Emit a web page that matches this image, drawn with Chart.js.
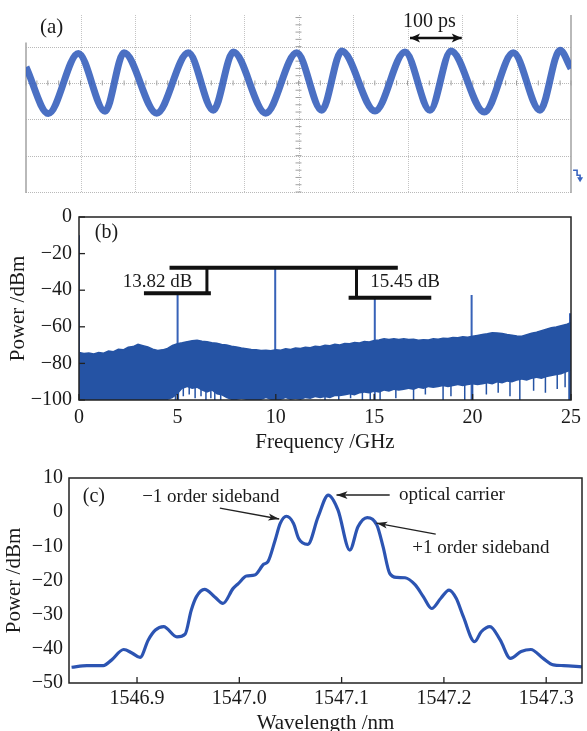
<!DOCTYPE html>
<html><head><meta charset="utf-8">
<script src="https://cdn.jsdelivr.net/npm/chart.js@4.4.1/dist/chart.umd.min.js"></script>
<style>
html,body{margin:0;padding:0;background:#fff;width:587px;height:731px;overflow:hidden;position:relative}
canvas{position:absolute;left:0}
#ca{top:0}
#cb{top:195px}
#cc{top:455px}
</style></head><body>
<canvas id="ca" width="587" height="195"></canvas>
<canvas id="cb" width="587" height="260"></canvas>
<canvas id="cc" width="587" height="281"></canvas>
<script>
// ---------- Panel (a): oscilloscope trace (screen divisions) ----------
const scopeTimeDiv = [0, 0.409, 0.960, 1.450, 1.798, 2.398, 2.978, 3.437, 3.804, 4.398, 4.967, 5.426, 5.793, 6.404, 6.954, 7.413, 7.798, 8.409, 8.941, 9.431, 9.798, 10];
const scopeVoltDiv = [0.44, -0.84, 0.81, -0.78, 0.83, -0.83, 0.83, -0.75, 0.85, -0.83, 0.83, -0.75, 0.88, -0.77, 0.85, -0.75, 0.88, -0.80, 0.83, -0.75, 0.90, 0.40];
const scopeGridX = [0,1,2,3,4,5,6,7,8,9,10];
const scopeGridY = [-3,-2,-1,0,1];

// ---------- Panel (b): RF spectrum ----------
const freqTicks = [0, 5, 10, 15, 20, 25];
const powerTicksB = [-100, -80, -60, -40, -20, 0];
const noiseStartGHz = 0, noiseStepGHz = 0.25;
const noiseUpper = [
 -74,-74.6,-74.3,-74.8,-74,-74.4,-73.2,-73.6,-72.3,-72.6,-71.2,-70.8,
 -69.6,-70.3,-71,-72.2,-73,-72.6,-71.8,-70.2,-69.2,-68.7,-68.1,-67.6,
 -67.4,-67.9,-68.1,-68.7,-69,-69.6,-70,-70.6,-71,-71.6,-72,-72.4,
 -72.5,-73,-72.8,-73.1,-72.5,-72.8,-72,-72.4,-71.6,-71.9,-71.2,-71.4,
 -70.6,-70.9,-70.1,-70.4,-69.6,-69.9,-69.1,-69.3,-68.6,-68.8,-68,-68.3,
 -67.5,-67.2,-66.6,-67,-66.5,-66.9,-66.6,-67,-66.8,-67.3,-67.1,-67.2,
 -66.6,-66.8,-66.2,-66.4,-65.8,-66,-65.5,-65.7,-65.2,-64.7,-64.2,-63.8,
 -63.2,-63.4,-63.6,-64.2,-64.6,-65,-65.1,-64.3,-63.5,-62.9,-62.1,-61.3,
 -60.5,-60.1,-59.4,-58.8,-57.6];
const noiseLower = [
 -100,-100,-100,-100,-100,-100,-100,-100,-100,-100,-100,-100,-100,-100,-100,-100,-100,-100,-100,
 -99,-97,-94,-93,-94,-93.5,-95,-96,-95,-97,-97.5,-99,
 -100,-100,-99.5,-100,-100,-100,-100,-99,-100,-100,
 -100,-99,-100,-99.5,-100,-99,-99.5,-98.5,-99,-98.5,-99,-98,
 -98,-97.5,-97,-97.5,-96.5,-96,-96.5,-95.5,-96,-95,-95.5,-94.5,
 -95,-94.5,-94,-94.5,-93.5,-94,-93,-93.5,-93,-92.5,-93,-92.5,-92,-92.5,-92,-91.5,
 -92,-91.5,-91,-91.5,-90.5,-91,-90,-90.5,-89.5,-89,-89.5,-88.5,-88,-88.5,-87.5,-87,-86.5,-86,-85,-84];
// blue noise streaks that reach below the solid part of the band
const streakFreqs = [4.9, 5.05, 5.3, 5.6, 5.9, 6.2, 6.45, 6.7, 6.9, 7.2, 12.5, 13.2, 13.8, 14.4, 14.8,
  15.3, 16.1, 17.0, 17.6, 18.5, 18.9, 19.6, 20.0, 20.7, 21.3, 21.9, 22.4, 23.1, 23.7, 24.3, 24.7, 24.9];
const streakBottoms = [-100, -100, -98, -97, -99, -98, -100, -99, -100, -100, -100, -100, -99, -100, -100,
  -100, -99, -100, -97, -100, -98, -100, -100, -97, -96, -98, -100, -95, -96, -94, -93, -100];
const streakTop = -82;
const spikeFreqs = [0, 5.01, 9.97, 15.03, 19.95, 24.95];
const spikeLevels = [-10, -42.3, -27.9, -44.3, -42.6, -52.6];

// ---------- Panel (c): optical spectrum ----------
const wavelengthTicks = [1546.9, 1547.0, 1547.1, 1547.2, 1547.3];
const powerTicksC = [-50, -40, -30, -20, -10, 0, 10];
const wavelengthNm = [1546.836,1546.851,1546.867,1546.875,1546.887,1546.895,1546.903,1546.911,1546.918,1546.926,
 1546.939,1546.947,1546.953,1546.958,1546.966,1546.976,1546.984,1546.994,1546.999,1547.007,1547.015,
 1547.024,1547.028,1547.035,1547.040,1547.046,1547.053,1547.058,1547.067,1547.077,1547.087,1547.0965,
 1547.108,1547.116,1547.125,1547.1345,1547.1405,1547.147,1547.154,1547.162,1547.172,1547.180,1547.188,
 1547.197,1547.205,1547.212,1547.219,1547.230,1547.2365,1547.245,1547.255,1547.265,1547.2755,1547.285,
 1547.297,1547.307,1547.317,1547.335];
const powerDbm = [-45.4,-44.9,-44.9,-43.3,-40.2,-41.2,-42.5,-37.4,-34.5,-33.5,
 -36.5,-35.7,-28.7,-24.8,-22.6,-24.8,-26.7,-22.3,-20.9,-18.7,-18.4,
 -15.2,-14.5,-8.2,-3.3,-1.2,-3.3,-7.7,-9.4,-1.4,5.0,0.6,
 -11.1,-4.3,-1.6,-3.8,-10.1,-17.9,-19.1,-19.2,-21.3,-24.8,-28.2,
 -25.2,-22.8,-25.2,-30.6,-37.9,-35.0,-33.5,-37.4,-42.8,-40.8,-40.2,
 -42.8,-44.7,-44.9,-45.3];

// ---------- styling ----------
const SERIF = '"Liberation Serif","Times New Roman",serif';
Chart.defaults.font.family = SERIF;
Chart.defaults.color = '#1a1a1a';
const minusFmt = v => String(v).replace('-', '\u2212');

const annotPlugin = {
  id: 'annot',
  afterDraw(chart, args, opts) {
    const ctx = chart.ctx, xs = chart.scales.x, ys = chart.scales.y;
    const X = v => xs.getPixelForValue(v), Y = v => ys.getPixelForValue(v);
    ctx.save();
    (opts.lines || []).forEach(l => {
      const x1 = X(l.x1), y1 = Y(l.y1), x2 = X(l.x2), y2 = Y(l.y2);
      ctx.strokeStyle = l.color; ctx.lineWidth = l.width; ctx.lineCap = 'butt';
      ctx.beginPath(); ctx.moveTo(x1, y1); ctx.lineTo(x2, y2); ctx.stroke();
      const heads = [];
      if (l.head === 'end' || l.head === 'both') heads.push([x1, y1, x2, y2]);
      if (l.head === 'both') heads.push([x2, y2, x1, y1]);
      heads.forEach(([ax, ay, bx, by]) => {
        const a = Math.atan2(by - ay, bx - ax), L = l.hl || 10, W = l.hw || 3.5;
        ctx.fillStyle = l.color; ctx.beginPath();
        ctx.moveTo(bx, by);
        ctx.lineTo(bx - L * Math.cos(a) + W * Math.sin(a), by - L * Math.sin(a) - W * Math.cos(a));
        ctx.lineTo(bx - L * 0.75 * Math.cos(a), by - L * 0.75 * Math.sin(a));
        ctx.lineTo(bx - L * Math.cos(a) - W * Math.sin(a), by - L * Math.sin(a) + W * Math.cos(a));
        ctx.closePath(); ctx.fill();
      });
    });
    (opts.texts || []).forEach(t => {
      ctx.font = (t.size || 19) + 'px ' + (t.family || SERIF);
      ctx.fillStyle = t.color || '#1a1a1a';
      ctx.textAlign = t.align || 'left'; ctx.textBaseline = 'middle';
      ctx.fillText(t.text, X(t.x), Y(t.y));
    });
    ctx.restore();
  }
};

const framePlugin = {
  id: 'frame',
  afterDraw(chart, args, opts) {
    if (!opts || !opts.show) return;
    const ctx = chart.ctx, a = chart.chartArea;
    ctx.save();
    ctx.strokeStyle = '#222'; ctx.lineWidth = 1.5;
    ctx.strokeRect(a.left, a.top, a.right - a.left, a.bottom - a.top);
    ctx.lineWidth = 1.3;
    (opts.innerTicksX || []).forEach(v => {
      const px = chart.scales.x.getPixelForValue(v);
      ctx.beginPath(); ctx.moveTo(px, a.bottom); ctx.lineTo(px, a.bottom - 6); ctx.stroke();
    });
    (opts.innerTicksY || []).forEach(v => {
      const py = chart.scales.y.getPixelForValue(v);
      ctx.beginPath(); ctx.moveTo(a.left, py); ctx.lineTo(a.left + 6, py); ctx.stroke();
    });
    ctx.restore();
  }
};

const scopeGridPlugin = {
  id: 'scopegrid',
  beforeDatasetsDraw(chart) {
    const ctx = chart.ctx, a = chart.chartArea, xs = chart.scales.x, ys = chart.scales.y;
    ctx.save();
    ctx.strokeStyle = '#b9b9b9'; ctx.lineWidth = 1; ctx.setLineDash([1, 1]);
    scopeGridY.forEach(v => {
      const py = Math.round(ys.getPixelForValue(v)) + 0.5;
      ctx.beginPath(); ctx.moveTo(a.left, py); ctx.lineTo(a.right, py); ctx.stroke();
    });
    ctx.strokeStyle = '#c4c4c4';
    scopeGridX.forEach(v => {
      if (v === 0 || v === 10) return;
      const px = Math.round(xs.getPixelForValue(v)) + 0.5;
      ctx.beginPath(); ctx.moveTo(px, a.top); ctx.lineTo(px, a.bottom); ctx.stroke();
    });
    ctx.setLineDash([]);
    ctx.strokeStyle = '#a8a8a8'; ctx.lineWidth = 1.6;
    let px = xs.getPixelForValue(0);
    ctx.beginPath(); ctx.moveTo(px, ys.getPixelForValue(1) - 4); ctx.lineTo(px, a.bottom + 1); ctx.stroke();
    px = xs.getPixelForValue(10);
    ctx.beginPath(); ctx.moveTo(px, a.top); ctx.lineTo(px, a.bottom + 1); ctx.stroke();
    // centre-line minor ticks
    ctx.strokeStyle = '#a0a0a0'; ctx.lineWidth = 1;
    const cy = ys.getPixelForValue(0), cx = xs.getPixelForValue(5);
    for (let k = 0; k <= 50; k++) {
      const x = xs.getPixelForValue(k / 5);
      ctx.beginPath(); ctx.moveTo(x, cy - 2.5); ctx.lineTo(x, cy + 2.5); ctx.stroke();
    }
    for (let k = -15; k <= 9; k++) {
      const y = ys.getPixelForValue(k / 5);
      if (y < a.top + 2) continue;
      ctx.beginPath(); ctx.moveTo(cx - 3, y); ctx.lineTo(cx + 3, y); ctx.stroke();
    }
    ctx.restore();
  },
  afterDraw(chart) {
    const ctx = chart.ctx, xs = chart.scales.x, ys = chart.scales.y;
    const x = xs.getPixelForValue(10.13), y = ys.getPixelForValue(-2.54);
    ctx.save();
    ctx.strokeStyle = '#3a64c0'; ctx.fillStyle = '#3a64c0'; ctx.lineWidth = 1.6;
    ctx.beginPath(); ctx.moveTo(x - 5, y - 5); ctx.lineTo(x - 1, y - 5); ctx.lineTo(x - 1, y); ctx.lineTo(x + 2, y); ctx.lineTo(x + 2, y + 3); ctx.stroke();
    ctx.beginPath(); ctx.moveTo(x - 1, y + 2); ctx.lineTo(x + 5, y + 2); ctx.lineTo(x + 2, y + 7); ctx.closePath(); ctx.fill();
    ctx.restore();
  }
};

// ---------- Chart (a) ----------
new Chart(document.getElementById('ca'), {
  type: 'line',
  data: { datasets: [{
    data: scopeTimeDiv.map((t, i) => ({ x: t, y: scopeVoltDiv[i] })),
    borderColor: 'rgba(55,96,188,0.9)', borderWidth: 7, pointRadius: 0,
    cubicInterpolationMode: 'monotone', fill: false
  }]},
  options: {
    responsive: false, animation: false, events: [],
    layout: { padding: { left: 26, right: 16, top: 15, bottom: 3 } },
    plugins: { legend: { display: false }, tooltip: { enabled: false },
      annot: {
        lines: [{ x1: 7.046, y1: 1.24, x2: 7.995, y2: 1.24, color: '#111', width: 2.5, head: 'both', hl: 10, hw: 4.5 }],
        texts: [
          { text: '(a)', x: 0.257, y: 1.54, size: 21 },
          { text: '100 ps', x: 6.917, y: 1.68, size: 20 }
        ]
      }
    },
    scales: {
      x: { type: 'linear', min: 0, max: 10, display: false },
      y: { min: -3, max: 1.87, display: false }
    }
  },
  plugins: [scopeGridPlugin, annotPlugin]
});

// ---------- Chart (b) ----------
const noiseFreq = noiseUpper.map((_, i) => noiseStartGHz + i * noiseStepGHz);
const streakPts = [];
streakFreqs.forEach((f, i) => { streakPts.push({ x: f, y: streakTop }, { x: f, y: streakBottoms[i] }, { x: f, y: null }); });
const spikePts = [];
spikeFreqs.forEach((f, i) => { spikePts.push({ x: f, y: -100 }, { x: f, y: spikeLevels[i] }, { x: f, y: null }); });
new Chart(document.getElementById('cb'), {
  type: 'line',
  data: { datasets: [
    { data: noiseFreq.map((f, i) => ({ x: f, y: noiseLower[i] })), borderWidth: 0, borderColor: 'rgba(0,0,0,0)', pointRadius: 0, fill: false, tension: 0 },
    { data: noiseFreq.map((f, i) => ({ x: f, y: noiseUpper[i] })), borderColor: '#2553a4', borderWidth: 1.5, backgroundColor: '#2553a4', pointRadius: 0, fill: '-1', tension: 0 },
    { data: streakPts, borderColor: '#2553a4', borderWidth: 1.5, pointRadius: 0, spanGaps: false, fill: false },
    { data: spikePts, borderColor: '#3762b8', borderWidth: 2, pointRadius: 0, spanGaps: false, fill: false }
  ]},
  options: {
    responsive: false, animation: false, events: [],
    layout: { padding: { left: 0, right: 13, top: 22, bottom: 0 } },
    plugins: { legend: { display: false }, tooltip: { enabled: false },
      frame: { show: true, innerTicksX: freqTicks, innerTicksY: powerTicksB },
      annot: {
        lines: [
          { x1: 4.6, y1: -27.8, x2: 16.2, y2: -27.8, color: '#111', width: 4 },
          { x1: 3.3, y1: -41.6, x2: 6.7, y2: -41.6, color: '#111', width: 4 },
          { x1: 6.5, y1: -27.8, x2: 6.5, y2: -41.6, color: '#111', width: 3 },
          { x1: 13.7, y1: -44.1, x2: 17.9, y2: -44.1, color: '#111', width: 4 },
          { x1: 14.1, y1: -27.8, x2: 14.1, y2: -44.1, color: '#111', width: 3 }
        ],
        texts: [
          { text: '(b)', x: 0.8, y: -8.7, size: 20 },
          { text: '13.82 dB', x: 5.76, y: -35.5, align: 'right', size: 19 },
          { text: '15.45 dB', x: 14.8, y: -35.5, align: 'left', size: 19 }
        ]
      }
    },
    scales: {
      x: { type: 'linear', min: 0, max: 25,
        afterBuildTicks: s => { s.ticks = freqTicks.map(v => ({ value: v })); },
        afterFit: s => { s.height = 55; },
        grid: { display: false, drawTicks: false }, border: { display: false },
        ticks: { padding: 6, font: { size: 20 }, color: '#1a1a1a' },
        title: { display: true, text: 'Frequency /GHz', font: { size: 21 }, color: '#1a1a1a', padding: { top: 0, bottom: 0 } } },
      y: { min: -100, max: 0,
        afterBuildTicks: s => { s.ticks = powerTicksB.map(v => ({ value: v })); },
        afterFit: s => { s.width = 79; },
        grid: { display: false, drawTicks: false }, border: { display: false },
        ticks: { padding: 7, font: { size: 20 }, color: '#1a1a1a', callback: minusFmt },
        title: { display: true, text: 'Power /dBm', font: { size: 21 }, color: '#1a1a1a', padding: { top: 6, bottom: 0 } } }
    }
  },
  plugins: [framePlugin, annotPlugin]
});

// ---------- Chart (c) ----------
new Chart(document.getElementById('cc'), {
  type: 'line',
  data: { datasets: [{
    data: wavelengthNm.map((w, i) => ({ x: w, y: powerDbm[i] })),
    borderColor: '#2c54b2', borderWidth: 3.2, pointRadius: 0, fill: false,
    cubicInterpolationMode: 'monotone'
  }]},
  options: {
    responsive: false, animation: false, events: [],
    layout: { padding: { left: 0, right: 5, top: 23, bottom: 0 } },
    plugins: { legend: { display: false }, tooltip: { enabled: false },
      frame: { show: true, innerTicksX: wavelengthTicks },
      annot: {
        lines: [
          { x1: 1546.981, y1: 1.2, x2: 1547.039, y2: -2.0, color: '#222', width: 1.3, head: 'end', hl: 11, hw: 3.5 },
          { x1: 1547.147, y1: 5.0, x2: 1547.095, y2: 5.0, color: '#222', width: 1.5, head: 'end', hl: 11, hw: 3.8 },
          { x1: 1547.192, y1: -6.4, x2: 1547.134, y2: -3.2, color: '#222', width: 1.3, head: 'end', hl: 11, hw: 3.5 }
        ],
        texts: [
          { text: '(c)', x: 1546.847, y: 4.4, size: 20 },
          { text: '\u22121 order sideband', x: 1546.905, y: 4.4, size: 19 },
          { text: 'optical carrier', x: 1547.156, y: 5.0, size: 19 },
          { text: '+1 order sideband', x: 1547.169, y: -10.5, size: 19 }
        ]
      }
    },
    scales: {
      x: { type: 'linear', min: 1546.8335, max: 1547.335,
        afterBuildTicks: s => { s.ticks = wavelengthTicks.map(v => ({ value: v })); },
        afterFit: s => { s.height = 53; },
        grid: { display: false, drawTicks: false }, border: { display: false },
        ticks: { padding: 4, font: { size: 20 }, color: '#1a1a1a', callback: v => Number(v).toFixed(1) },
        title: { display: true, text: 'Wavelength /nm', font: { size: 21 }, color: '#1a1a1a', padding: { top: 0, bottom: 0 } } },
      y: { min: -50, max: 10,
        afterBuildTicks: s => { s.ticks = powerTicksC.map(v => ({ value: v })); },
        afterFit: s => { s.width = 69; },
        grid: { display: false, drawTicks: false }, border: { display: false },
        ticks: { padding: 6, font: { size: 20 }, color: '#1a1a1a', callback: minusFmt },
        title: { display: true, text: 'Power /dBm', font: { size: 21 }, color: '#1a1a1a', padding: { top: 2, bottom: 0 } } }
    }
  },
  plugins: [framePlugin, annotPlugin]
});
</script>
</body></html>
